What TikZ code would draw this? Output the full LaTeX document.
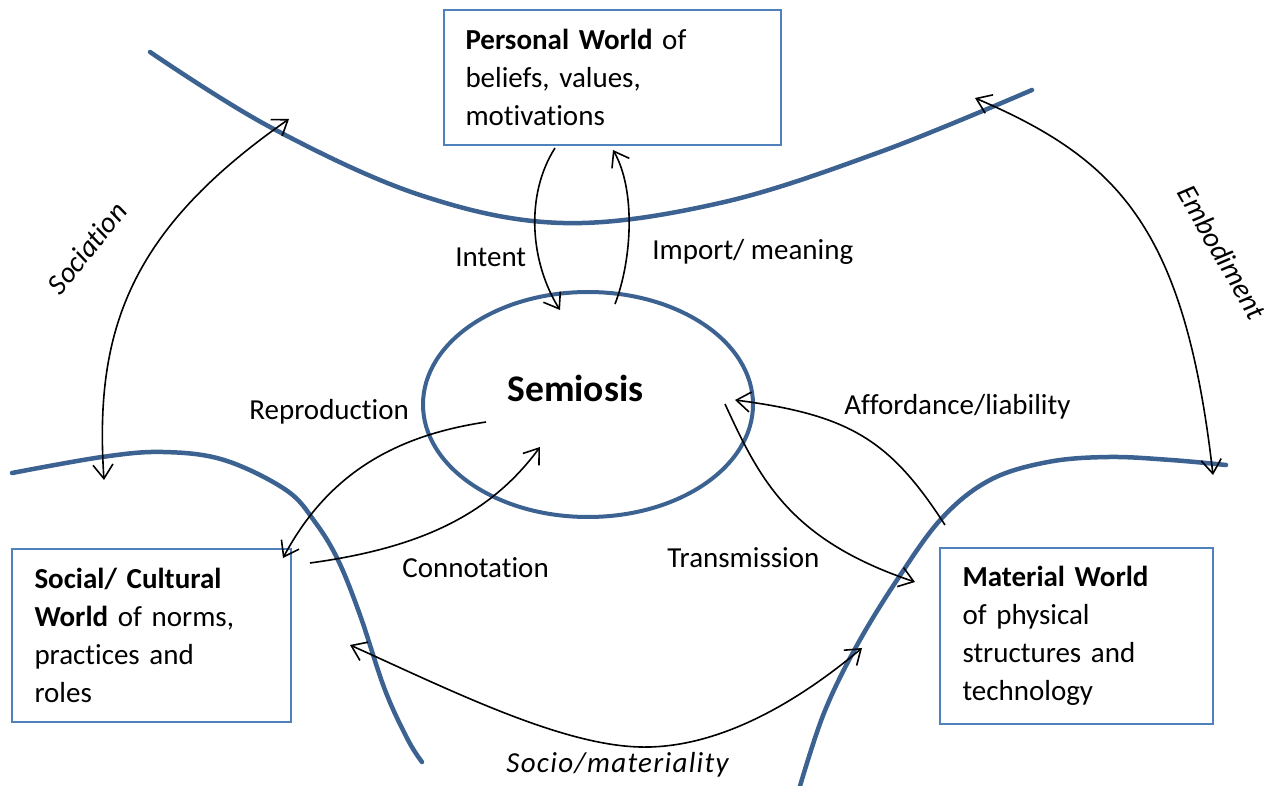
\documentclass[tikz,border=0pt]{standalone}
\usepackage{fontspec}
\setmainfont{Carlito}[Ligatures=NoCommon]
\usetikzlibrary{shapes.geometric,arrows.meta}
\definecolor{curveblue}{RGB}{60,98,145}
\definecolor{boxblue}{RGB}{79,129,189}
\begin{document}
\begin{tikzpicture}[x=0.5pt,y=-0.5pt,
  worldcurve/.style={draw=curveblue,line width=2.25pt,line cap=round},
  worldbox/.style={draw=boxblue,fill=white,line width=1.1pt,rectangle,align=left,inner xsep=11pt,inner ysep=0pt,font=\fontsize{14.5pt}{19pt}\selectfont},
  semi/.style={draw=curveblue,line width=2pt,ellipse,inner sep=0pt},
  lbl/.style={anchor=base west,inner sep=0pt,font=\fontsize{14.5pt}{19pt}\selectfont},
  ilbl/.style={inner sep=0pt,font=\fontsize{14.5pt}{19pt}\itshape},
  link/.style={draw=black,line width=0.8pt,-{Straight Barb[length=7pt,width=10pt]}},
  dlink/.style={draw=black,line width=0.8pt,{Straight Barb[length=7pt,width=10pt]}-{Straight Barb[length=7pt,width=10pt]}}
]
\fill[white] (0,0) rectangle (1282,786);
\useasboundingbox (0,0) rectangle (1282,786);

% world boundaries
\draw[worldcurve] plot[smooth, tension=0.6] coordinates {(150,52) (270,127) (420,195) (563,223) (720,203) (880,152) (1032,90)};
\draw[worldcurve] plot[smooth, tension=0.6] coordinates {(12,473) (102,457) (163,452) (224,460) (286,490) (315,522) (338,560) (360,615) (385,690) (408,740) (422,762)};
\draw[worldcurve] plot[smooth, tension=0.6] coordinates {(800,786) (824,713) (856,647) (897,580) (942,518) (990,480) (1048,462) (1109,457) (1171,460) (1226,465)};

% semiosis
\node[semi, minimum width=165pt, minimum height=112.5pt] (sem) at (588,404.5) {};
\node[lbl, font=\fontsize{18.8pt}{22pt}\selectfont\bfseries] (semtxt) at (507,402) {Semiosis};

% worlds
\node[worldbox, inner xsep=10.5pt, minimum width=168.5pt, minimum height=67.5pt, text width=147pt] (personal) at (612.5,77.5) {\textbf{Personal World} of\\beliefs, values,\\motivations};
\node[worldbox, minimum width=139.5pt, minimum height=86.5pt, text width=117pt] (social) at (151.5,635.5) {\textbf{Social/ Cultural}\\\textbf{World} of norms,\\practices and\\roles};
\node[worldbox, minimum width=136.5pt, minimum height=88pt, text width=114pt] (material) at (1076.5,636) {\textbf{Material World}\\of physical\\structures and\\technology};

% connector ends
\coordinate (socA) at (289,119);
\coordinate (socB) at (104,480);
\coordinate (embA) at (975,98);
\coordinate (embB) at (1213,475);
\coordinate (intA) at (555,148);
\coordinate (intB) at (560,310);
\coordinate (impA) at (615,304);
\coordinate (impB) at (613,150);
\coordinate (repA) at (486,422);
\coordinate (repB) at (283,558);
\coordinate (conA) at (310,563);
\coordinate (conB) at (540,447);
\coordinate (affA) at (945,525);
\coordinate (affB) at (735,400);
\coordinate (trA) at (725,404);
\coordinate (trB) at (915,582);
\coordinate (smA) at (350,645);
\coordinate (smLow) at (640,747);
\coordinate (smB) at (862,648);

% connectors
\draw[dlink] (socB) .. controls (94,330) and (130,230) .. (socA);
\draw[dlink] (embA) .. controls (1120,160) and (1185,230) .. (embB);
\draw[link] (intA) .. controls (525,195) and (530,262) .. (intB);
\draw[link] (impA) .. controls (632,260) and (636,190) .. (impB);
\draw[link] (repA) .. controls (400,435) and (330,470) .. (repB);
\draw[link] (conA) .. controls (420,548) and (490,515) .. (conB);
\draw[link] (affA) .. controls (890,440) and (850,415) .. (affB);
\draw[link] (trA) .. controls (760,480) and (790,540) .. (trB);
\draw[dlink] (smA) .. controls (450,690) and (560,745) .. (smLow) .. controls (720,749) and (800,700) .. (smB);

% labels
\node[lbl] (lintent) at (455,267) {Intent};
\node[lbl] (limport) at (652,260) {Import/ meaning};
\node[lbl] (lrepro) at (249,420) {Reproduction};
\node[lbl] (lconn) at (402,578) {Connotation};
\node[lbl] (ltrans) at (667,568) {Transmission};
\node[lbl] (lafford) at (844,415) {Affordance/liability};
\node[lbl, font=\fontsize{14.5pt}{19pt}\itshape\addfontfeature{LetterSpace=4.5}] (lsocmat) at (506,772) {Socio/materiality};
\node[ilbl, rotate=51] (lsoc) at (87,248) {Sociation};
\node[ilbl, rotate=-60] (lemb) at (1222,252) {Embodiment};
\end{tikzpicture}
\end{document}
